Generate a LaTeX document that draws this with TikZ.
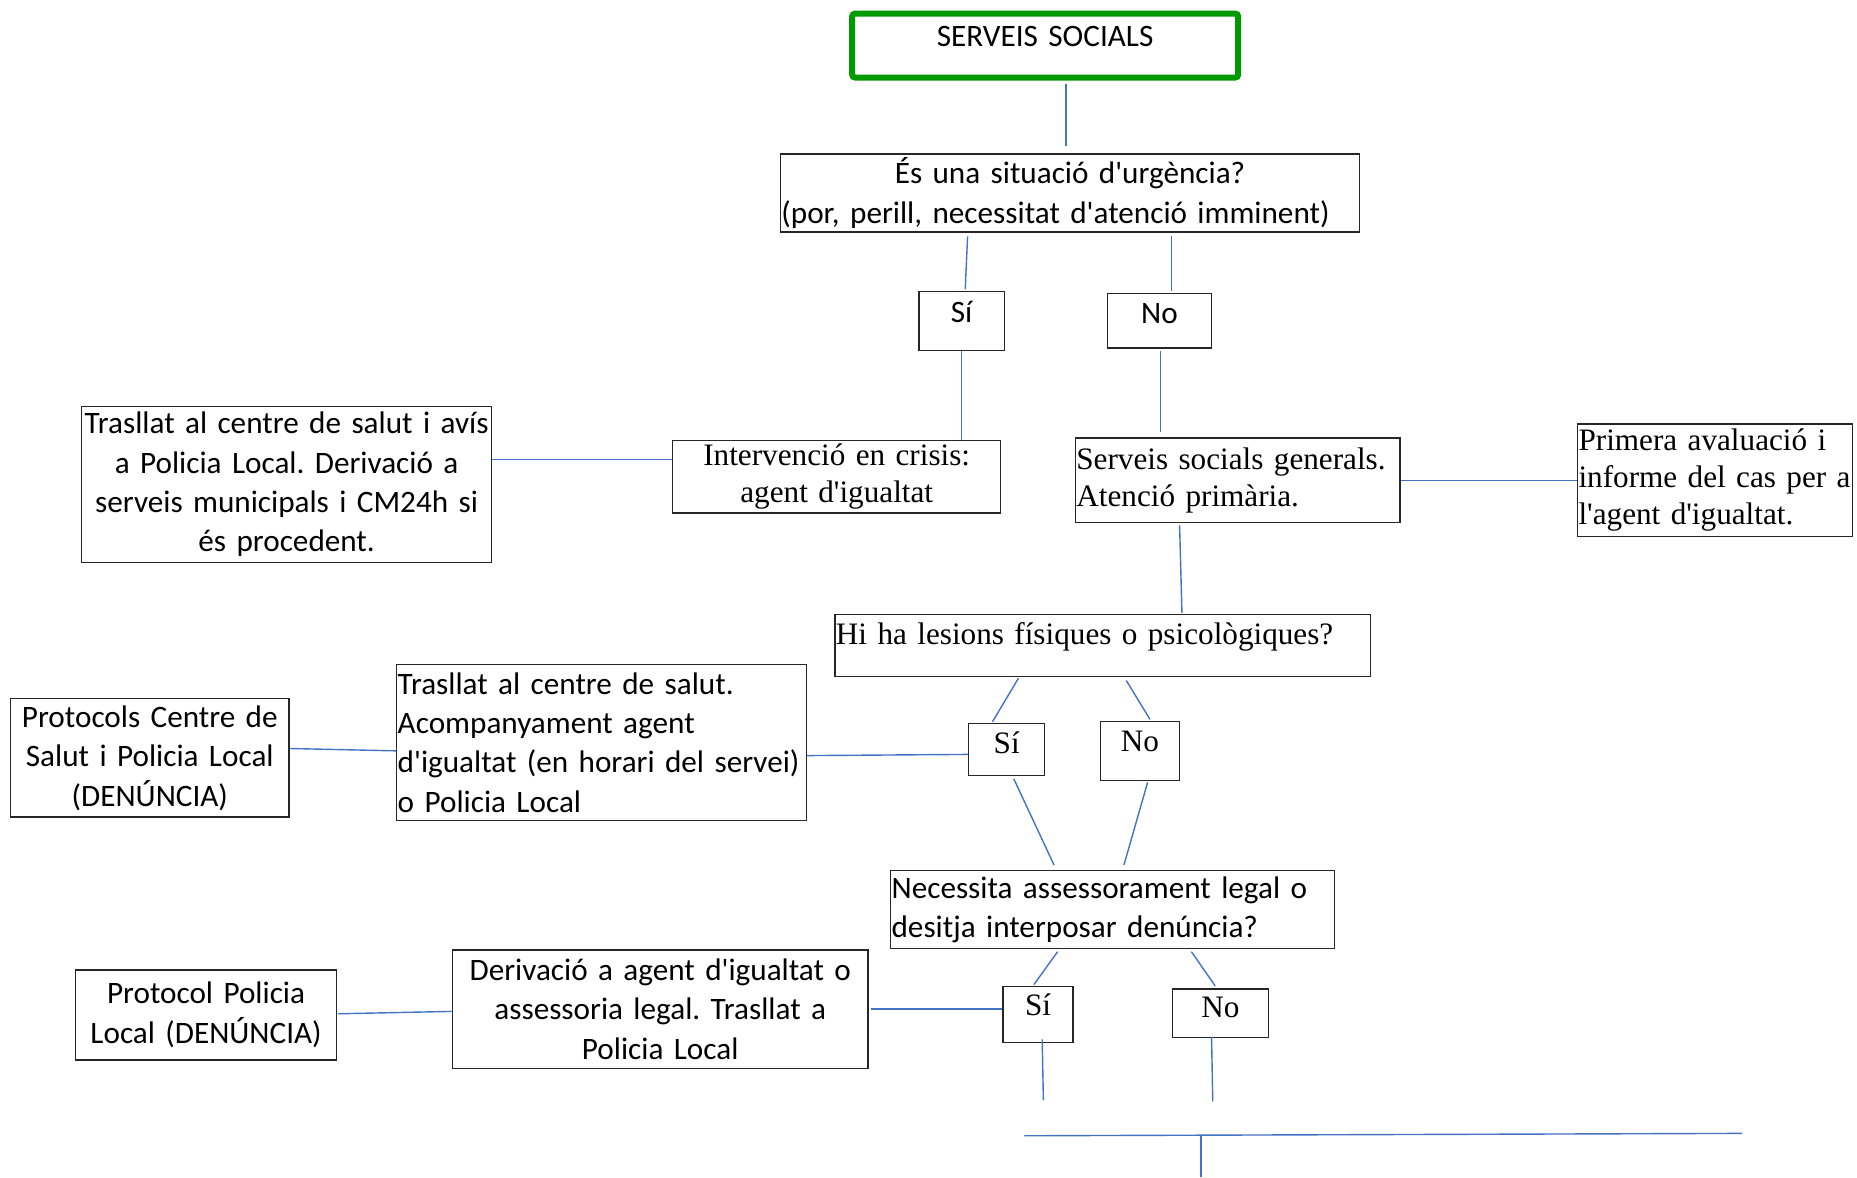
\documentclass[tikz,border=0pt]{standalone}
\usepackage{fontspec}
\setmainfont{Liberation Serif}[Ligatures=TeXOff]
\newfontfamily\carlito{Carlito}[Ligatures=TeXOff]
\usetikzlibrary{calc}
\definecolor{LinkBlue}{HTML}{4472C4}
\definecolor{FrameGreen}{HTML}{009A00}
\frenchspacing
\hyphenpenalty=10000

\begin{document}
\begin{tikzpicture}[x=0.5922pt,y=-0.5922pt,
    box/.style={draw=black!85,line width=0.7pt,inner xsep=0.5pt,inner ysep=1pt,align=center,
      font=\carlito\fontsize{15.6}{19.7}\selectfont},
    serifbox/.style={box,font=\fontsize{15.6}{18.6}\selectfont},
    boxsize/.code 2 args={\pgfmathsetmacro\boxw{#1*0.5922-1}%
      \pgfmathsetmacro\boxh{#2*0.5922}%
      \edef\boxopts{minimum width=#1*0.5922pt,minimum height=\boxh pt,text width=\boxw pt}%
      \expandafter\pgfkeysalso\expandafter{\boxopts}},
    lift/.style={text height=10pt,text depth=#1},
    link/.style={draw=LinkBlue,line width=0.7pt}]
  \useasboundingbox (0,0) rectangle (1568,994);
  % start
  \node[box,draw=FrameGreen,line width=3pt,rounded corners=1.5pt,
        boxsize={326}{54},lift=8.9pt] (start) at (882.5,38.5) {SERVEIS SOCIALS};
  % first question
  \node[box,boxsize={489}{66}] (urgencia) at (903.5,163)
        {És una situació d'urgència?\\\makebox[\hsize][l]{(por, perill, necessitat d'atenció imminent)}};
  \node[box,boxsize={72}{50},lift=8.3pt] (si1) at (812,271) {Sí};
  \node[box,boxsize={88}{46},lift=7.1pt] (no1) at (979,271) {No};
  % yes: crisis
  \node[serifbox,boxsize={277}{61}] (crisi) at (706.5,402.5)
        {Intervenció en crisis:\\agent d'igualtat};
  \node[box,boxsize={346}{132}] (trasllat) at (242,409)
        {Trasllat al centre de salut i avís\\a Policia Local. Derivació a\\serveis municipals i CM24h si\\és procedent.};
  % no: general services
  \node[serifbox,align=left,boxsize={274}{71}] (generals) at (1045,405.5)
        {Serveis socials generals.\\Atenció primària.};
  \node[serifbox,align=left,boxsize={232}{95}] (avaluacio) at (1448,405.5)
        {Primera avaluació i\\informe del cas per a\\l'agent d'igualtat.};
  % second question
  \node[serifbox,align=left,boxsize={452}{52},lift=10.7pt] (lesions) at (931,545)
        {Hi ha lesions físiques o psicològiques?};
  \node[serifbox,boxsize={64}{44},lift=5.9pt] (si2) at (850,633) {Sí};
  \node[serifbox,boxsize={67}{50},lift=9.5pt] (no2) at (962.5,634) {No};
  \node[box,align=left,boxsize={346}{132}] (salut) at (508,627)
        {Trasllat al centre de salut.\\Acompanyament agent\\d'igualtat (en horari del servei)\\o Policia Local};
  \node[box,boxsize={235}{100}] (protocols) at (126.5,640)
        {Protocols Centre de\\Salut i Policia Local\\(DENÚNCIA)};
  % third question
  \node[box,align=left,boxsize={375}{66}] (denuncia) at (939.5,768)
        {Necessita assessorament legal o\\desitja interposar denúncia?};
  \node[serifbox,boxsize={59}{47},lift=8.9pt] (si3) at (876.5,856.5) {Sí};
  \node[serifbox,boxsize={81}{41},lift=5.3pt] (no3) at (1030.5,855.5) {No};
  \node[box,boxsize={351}{100}] (derivacio) at (557.5,852)
        {Derivació a agent d'igualtat o\\assessoria legal. Trasllat a\\Policia Local};
  \node[box,boxsize={220}{76}] (policia) at (174,857)
        {Protocol Policia\\Local (DENÚNCIA)};
  % loose ends
  \coordinate (siend) at (881,929);
  \coordinate (noend) at (1024,930);
  \coordinate (railL) at (865,959);
  \coordinate (railR) at (1471,957);
  \coordinate (railmid) at (1014,959);
  \coordinate (railbot) at (1014,994);
  % connectors
  \draw[link] ($(start.south)+(17.5,2.5)$) -- ($(urgencia.north)+(-3.5,-6)$);
  \draw[link] ($(urgencia.south)+(-86.5,3)$) -- ($(si1.north)+(3,-1)$);
  \draw[link] ($(urgencia.south)+(85.5,3)$) -- ($(no1.north)+(10,-2)$);
  \draw[link] (si1.south) -- (si1.south |- crisi.north);
  \draw[link] ($(trasllat.east)+(0,-21)$) -- ($(crisi.west)+(0,-14.5)$);
  \draw[link] ($(no1.south)+(1,2)$) -- ($(generals.north)+(-65,-5)$);
  \draw[link] (generals.east) -- (avaluacio.west);
  \draw[link] ($(generals.south)+(-49,2)$) -- ($(lesions.north)+(67,-1)$);
  \draw[link] ($(lesions.south)+(-71,1)$) -- ($(si2.north)+(-12,-1)$);
  \draw[link] ($(lesions.south)+(20,3)$) -- ($(no2.north)+(8.5,-1)$);
  \draw[link] ($(si2.south)+(6,2)$) -- ($(denuncia.north)+(-49.5,-4)$);
  \draw[link] ($(no2.south)+(6.5,1)$) -- ($(denuncia.north)+(9.5,-4)$);
  \draw[link] ($(salut.east)+(0,11)$) -- ($(si2.west)+(0,4)$);
  \draw[link] ($(protocols.east)+(0,-8)$) -- ($(salut.west)+(0,7)$);
  \draw[link] ($(denuncia.south)+(-46.5,2)$) -- ($(si3.north)+(-3.5,-1)$);
  \draw[link] ($(denuncia.south)+(66.5,2)$) -- ($(no3.north)+(-4.5,-2)$);
  \draw[link] ($(derivacio.east)+(2,0)$) -- ($(si3.west)+(0,-4.5)$);
  \draw[link] ($(policia.east)+(1,-1)$) -- ($(derivacio.west)+(0,2)$);
  \draw[link] ($(si3.south)+(3.5,-3)$) -- (siend);
  \draw[link] ($(no3.south)+(-7.5,-1)$) -- (noend);
  \draw[link] (railL) -- (railR);
  \draw[link] (railmid) -- (railbot);
\end{tikzpicture}
\end{document}
